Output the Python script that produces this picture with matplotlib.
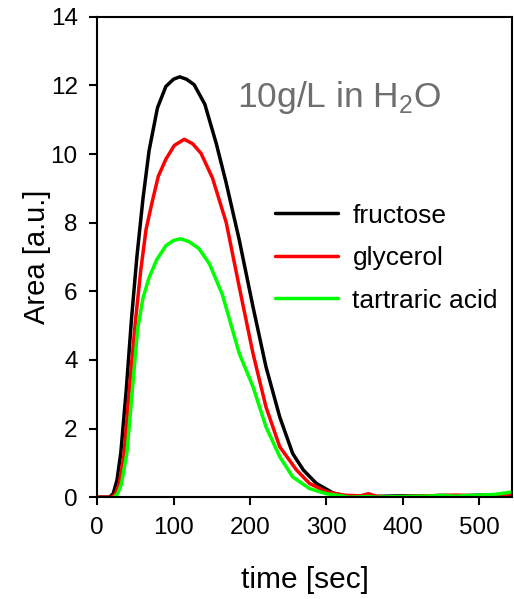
import numpy as np
import matplotlib
matplotlib.use("Agg")
import matplotlib.pyplot as plt

plt.rcParams['font.family'] = ['Liberation Sans', 'DejaVu Sans']
plt.rcParams['mathtext.fontset'] = 'custom'
plt.rcParams['mathtext.rm'] = 'Liberation Sans'

# values (time in sec, area in a.u.)
tail_t = [330, 345, 355, 365, 380, 400, 430, 450, 470, 500, 520, 543]

fructose_t = [0, 16, 21, 26, 31, 38, 45, 52, 60, 68, 79, 90, 100, 108, 117,
              127, 141, 156, 169, 186, 204, 221, 239, 256, 270, 287, 309, 322] + tail_t
fructose_y = [0, 0, 0.1, 0.5, 1.3, 3.1, 5.2, 7.0, 8.7, 10.1, 11.35, 11.97, 12.18,
              12.25, 12.18, 12.02, 11.45, 10.3, 9.15, 7.5, 5.55, 3.8, 2.34, 1.27,
              0.79, 0.4, 0.12, 0.05,
              0.02, 0.03, 0.05, 0.02, 0.03, 0.04, 0.03, 0.05, 0.04, 0.06, 0.05, 0.08]

glycerol_t = [0, 19, 24, 29, 35, 42, 50, 57, 64, 72, 80, 90, 101, 114, 125,
              136, 151, 169, 186, 204, 221, 239, 261, 278, 300, 322] + tail_t
glycerol_y = [0, 0, 0.1, 0.4, 1.2, 3.1, 5.1, 6.6, 7.8, 8.6, 9.35, 9.85, 10.25,
              10.43, 10.3, 10.02, 9.3, 8.0, 6.13, 4.19, 2.63, 1.47, 0.79, 0.4,
              0.16, 0.06,
              0.05, 0.04, 0.1, 0.03, 0.0, 0.02, 0.04, 0.05, 0.06, 0.03, 0.04, 0.1]

tartaric_t = [22, 27, 32, 39, 46, 53, 60, 68, 78, 90, 100, 109, 120, 133,
              147, 164, 186, 204, 221, 239, 256, 278, 300, 322] + tail_t
tartaric_y = [0, 0.1, 0.4, 1.3, 3.1, 4.9, 5.8, 6.4, 6.92, 7.33, 7.48, 7.53,
              7.45, 7.25, 6.8, 5.9, 4.19, 3.22, 2.05, 1.18, 0.59, 0.25, 0.1, 0.03,
              0.0, 0.01, 0.02, 0.0, 0.01, 0.02, 0.03, 0.05, 0.03, 0.06, 0.08, 0.15]

series = [("fructose", fructose_t, fructose_y, "black"),
          ("glycerol", glycerol_t, glycerol_y, "#ff0000"),
          ("tartraric acid", tartaric_t, tartaric_y, "#00ff00")]

fig = plt.figure(figsize=(5.14, 5.99), dpi=100)
ax = fig.add_axes([0.189, 0.170, 0.807, 0.802])

for name, t, y, c in series:
    ax.plot(t, y, color=c, lw=2.5, label=name, solid_capstyle='round',
            solid_joinstyle='round')

ax.set_xlim(0, 543)
ax.set_ylim(0, 14)
ax.set_xticks([0, 100, 200, 300, 400, 500])
ax.set_yticks([0, 2, 4, 6, 8, 10, 12, 14])
ax.tick_params(direction='out', length=6, width=1.5, labelsize=17.5, pad=8)
for s in ax.spines.values():
    s.set_linewidth(1.5)

ax.set_xlabel("time [sec]", fontsize=21.5, labelpad=20)
ax.set_ylabel("Area [a.u.]", fontsize=21, labelpad=0)

ax.text(0.337, 0.8125, "10g/L in H$_2$O", transform=ax.transAxes,
        fontsize=25.5, color='#6e6e6e', va='baseline', ha='left')

ax.legend(loc='upper left', bbox_to_anchor=(0.429, 0.611),
          frameon=False, fontsize=19, handlelength=2.4, handletextpad=0.53,
          labelspacing=0.7, borderpad=0, borderaxespad=0)

plt.savefig("out.png", dpi=100)
plt.close()
